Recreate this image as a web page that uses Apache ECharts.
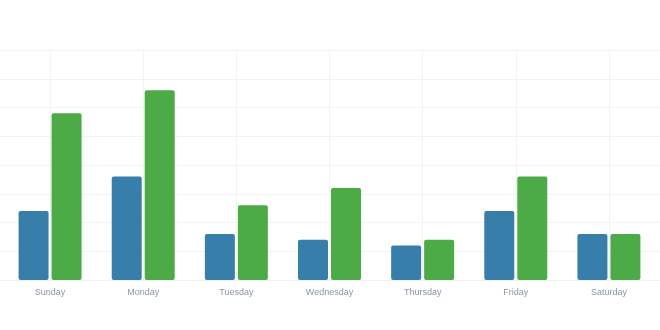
<!DOCTYPE html>
<html><head><meta charset="utf-8">
<script src="https://cdn.jsdelivr.net/npm/echarts@6/dist/echarts.min.js"></script>
<style>html,body{margin:0;padding:0;background:#fff}#c{width:660px;height:330px}</style>
</head><body><div id="c"></div>
<script>
const categories = ['Sunday','Monday','Tuesday','Wednesday','Thursday','Friday','Saturday'];
const seriesA = [12, 18, 8, 7, 6, 12, 8];
const seriesB = [29, 33, 13, 16, 7, 18, 8];
const yMax = 40, yStep = 5;

const chart = echarts.init(document.getElementById('c'), null, {renderer:'canvas'});
chart.setOption({
  animation: false,
  grid: [
    {left: 0, right: 0, top: 50, bottom: 50},
    {left: 3.5, right: 4.5, top: 50, bottom: 50}
  ],
  xAxis: [
    {gridIndex: 0, type: 'value', min: 0, max: 1, show: false},
    {gridIndex: 1, type: 'category', data: categories, boundaryGap: true,
     axisLine: {show: false},
     axisTick: {show: false},
     axisLabel: {color: '#8a97a8', fontSize: 9, fontFamily: 'Liberation Sans, Arial, sans-serif', margin: 8},
     splitLine: {show: true, alignWithLabel: true, lineStyle: {color: '#f2f2f2', width: 1}}}
  ],
  yAxis: [
    {gridIndex: 0, type: 'value', min: 0, max: yMax, interval: yStep,
     axisLine: {show: false}, axisTick: {show: false}, axisLabel: {show: false},
     splitLine: {show: true, lineStyle: {color: '#f2f2f2', width: 1}}},
    {gridIndex: 1, type: 'value', min: 0, max: yMax, interval: yStep, show: false,
     splitLine: {show: false}}
  ],
  series: [
    {type: 'bar', xAxisIndex: 1, yAxisIndex: 1, data: seriesA, barWidth: 30, barGap: '10%',
     itemStyle: {color: '#377eab', borderRadius: 2}},
    {type: 'bar', xAxisIndex: 1, yAxisIndex: 1, data: seriesB, barWidth: 30, barGap: '10%',
     itemStyle: {color: '#4cab46', borderRadius: 2}}
  ]
});
</script></body></html>
